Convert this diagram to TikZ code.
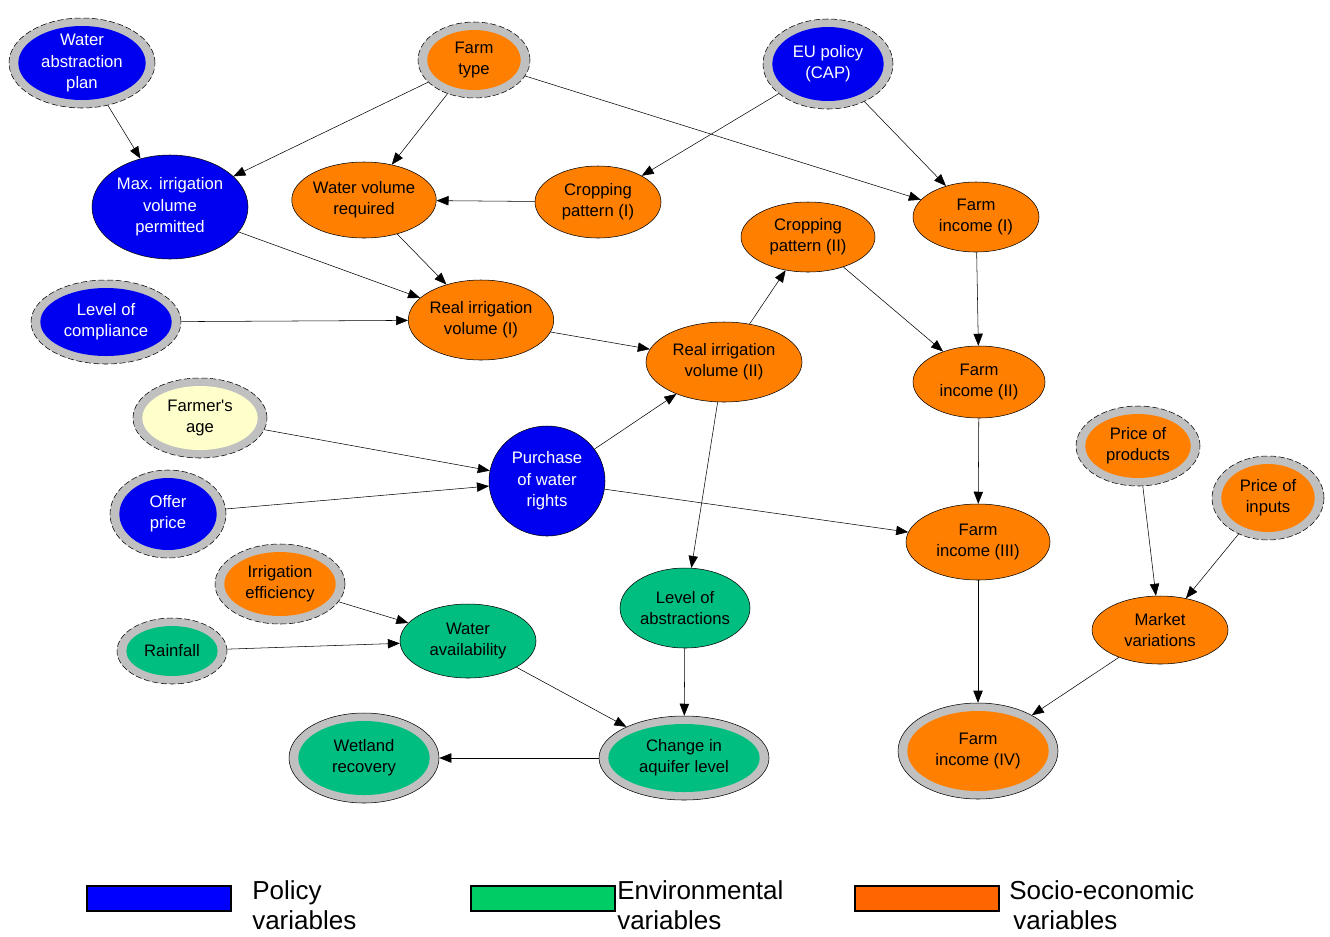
\documentclass[tikz,border=0pt]{standalone}
\usepackage{fontspec}
\setmainfont{Liberation Sans}
\usetikzlibrary{shapes.geometric,arrows.meta,calc}

\definecolor{polblue}{RGB}{0,0,240}
\definecolor{socorange}{RGB}{255,128,0}
\definecolor{envgreen}{RGB}{0,190,128}
\definecolor{ringgray}{RGB}{192,192,192}
\definecolor{ageyellow}{RGB}{255,255,204}
\definecolor{legblue}{RGB}{0,0,255}
\definecolor{leggreen}{RGB}{0,204,102}
\definecolor{legorange}{RGB}{255,102,0}

\tikzset{
  var/.style={ellipse, draw, inner sep=0pt, align=center, font=\fontsize{12.5}{16}\selectfont},
  sz/.style 2 args={minimum width={#1*1.5pt}, minimum height={#2*1.5pt}},
  pol/.style={var, fill=polblue, text=white},
  soc/.style={var, fill=socorange},
  env/.style={var, fill=envgreen},
  ring/.style={var, fill=ringgray, path picture={
      \fill[#1] let \p1=(path picture bounding box.north east),
        \p2=(path picture bounding box.center) in
        (\p2) ellipse [x radius={\x1-\x2-7pt}, y radius={\y1-\y2-6pt}];}},
  input/.style={ring=#1, dash pattern=on 4.5pt off 2pt},
  output/.style={ring=#1},
  link/.style={-{Triangle[length=9pt,width=7pt]}},
  legbox/.style={draw, line width=1.2pt},
  legtext/.style={font=\fontsize{19.5}{22.5}\selectfont, align=left, anchor=north west, inner sep=0pt}
}

\begin{document}
\begin{tikzpicture}[x=0.75pt, y=-0.75pt]

\useasboundingbox (0,0) rectangle (1330,936);

% Top row
\node[input=polblue, text=white, sz={73}{45}] (wap) at (82,63) {Water\\abstraction\\plan};
\node[input=socorange, sz={56}{38}] (ftype) at (474,60) {Farm\\type};
\node[input=polblue, text=white, sz={65}{45}] (eu) at (828,64) {EU policy\\(CAP)};

% Irrigation volume chain
\node[pol, sz={78}{52}] (maxirr) at (170,207) {Max. irrigation\\volume\\permitted};
\node[soc, sz={69}{38}] (wvr) at (364,200) {Water volume\\required};
\node[soc, sz={63}{36}] (crop1) at (598,202) {Cropping\\pattern (I)};
\node[soc, sz={67}{35}] (crop2) at (808,237) {Cropping\\pattern (II)};
\node[input=polblue, text=white, sz={75}{42}] (compl) at (106,322) {Level of\\compliance};
\node[soc, sz={72}{40}] (rirr1) at (481,320) {Real irrigation\\volume (I)};
\node[soc, sz={78}{40}] (rirr2) at (724,362) {Real irrigation\\volume (II)};

% Farm income chain
\node[soc, sz={63}{35}] (inc1) at (976,217) {Farm\\income (I)};
\node[soc, sz={66}{36}] (inc2) at (979,382) {Farm\\income (II)};
\node[soc, sz={72}{38}] (inc3) at (978,542) {Farm\\income (III)};
\node[output=socorange, sz={80}{48}] (inc4) at (978,751) {Farm\\income (IV)};

% Water rights
\node[input=ageyellow, sz={67}{40}] (age) at (200,418) {Farmer\textquotesingle s\\age};
\node[pol, sz={58}{55}] (purch) at (547,481) {Purchase\\of water\\rights};
\node[input=polblue, text=white, sz={58}{44}] (offer) at (168,514) {Offer\\price};

% Market
\node[input=socorange, sz={62}{40}] (pprod) at (1138,446) {Price of\\products};
\node[input=socorange, sz={56}{42}] (pinp) at (1268,498) {Price of\\inputs};
\node[soc, sz={68}{34}] (market) at (1160,630) {Market\\variations};

% Environment
\node[input=socorange, sz={65}{40}] (ieff) at (280,584) {Irrigation\\efficiency};
\node[input=envgreen, sz={55}{33}] (rain) at (172,651) {Rainfall};
\node[env, sz={68}{37}] (wavail) at (468,641) {Water\\availability};
\node[env, sz={65}{40}] (labs) at (685,608) {Level of\\abstractions};
\node[output=envgreen, sz={85}{42}] (aquifer) at (684,758) {Change in\\aquifer level};
\node[output=envgreen, sz={75}{45}] (wetland) at (364,758) {Wetland\\recovery};

% Links
\draw[link] (wap) -- (maxirr);
\draw[link] (ftype) -- (maxirr);
\draw[link] (ftype) -- (wvr);
\draw[link] (ftype) -- (inc1);
\draw[link] (eu) -- (crop1);
\draw[link] (eu) -- (inc1);
\draw[link] (crop1) -- (wvr);
\draw[link] (maxirr) -- (rirr1);
\draw[link] (wvr) -- (rirr1);
\draw[link] (compl) -- (rirr1);
\draw[link] (rirr1) -- (rirr2);
\draw[link] (purch) -- (rirr2);
\draw[link] (rirr2) -- (crop2);
\draw[link] (rirr2) -- (labs);
\draw[link] (crop2) -- (inc2);
\draw[link] (inc1) -- (inc2);
\draw[link] (inc2) -- (inc3);
\draw[link] (age) -- (purch);
\draw[link] (offer) -- (purch);
\draw[link] (purch) -- (inc3);
\draw[link] (inc3) -- (inc4);
\draw[link] (pprod) -- (market);
\draw[link] (pinp) -- (market);
\draw[link] (market) -- (inc4);
\draw[link] (ieff) -- (wavail);
\draw[link] (rain) -- (wavail);
\draw[link] (wavail) -- (aquifer);
\draw[link] (labs) -- (aquifer);
\draw[link] (aquifer) -- (wetland);

% Legend
\draw[legbox, fill=legblue] (87,886) rectangle (231,911);
\node[legtext] (legpol) at (252,880) {Policy\\variables};
\draw[legbox, fill=leggreen] (471,886) rectangle (615,911);
\node[legtext] (legenv) at (617,880) {Environmental\\variables};
\draw[legbox, fill=legorange] (855,886) rectangle (999,911);
\node[legtext] (legsoc) at (1009,880) {Socio-economic\\\hspace{3pt}variables};

\end{tikzpicture}
\end{document}
